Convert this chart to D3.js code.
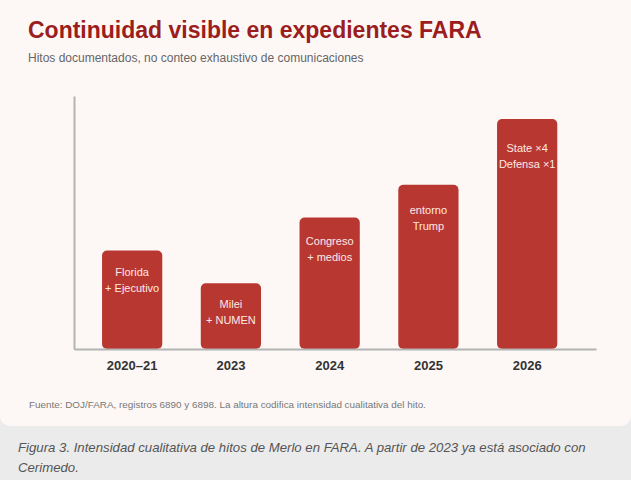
<!DOCTYPE html>
<html>
<head>
<meta charset="utf-8">
<script src="https://cdn.jsdelivr.net/npm/d3@7"></script>
<style>
  body { margin: 0; background: #ebebeb; font-family: "Liberation Sans", Arial, sans-serif; }
  #card { width: 631px; height: 426px; background: #fdf8f6; border-radius: 0 0 10px 10px; }
  #caption { padding: 12px 18px 0 18px; font-style: italic; font-size: 13.2px; line-height: 20px; color: #555; }
</style>
</head>
<body>
<div id="card"></div>
<div id="caption">Figura 3. Intensidad cualitativa de hitos de Merlo en FARA. A partir de 2023 ya está asociado con Cerimedo.</div>
<script>
// data (height = qualitative intensity)
var years = ["2020–21", "2023", "2024", "2025", "2026"];
var intensity = [3, 2, 4, 5, 7];
var labels = [
  ["Florida", "+ Ejecutivo"],
  ["Milei", "+ NUMEN"],
  ["Congreso", "+ medios"],
  ["entorno", "Trump"],
  ["State ×4", "Defensa ×1"]
];

var svgWidth = 631;
var svgHeight = 426;
var margin = { top: 96, right: 35, bottom: 77, left: 74 };
var width = svgWidth - margin.left - margin.right;
var height = svgHeight - margin.top - margin.bottom;

var svg = d3.select("#card")
  .append("svg")
  .attr("width", svgWidth)
  .attr("height", svgHeight);

svg.append("text")
  .attr("x", 28)
  .attr("y", 38)
  .attr("fill", "#9b1d1d")
  .attr("font-size", 23)
  .attr("font-weight", "bold")
  .text("Continuidad visible en expedientes FARA");

svg.append("text")
  .attr("x", 28)
  .attr("y", 62)
  .attr("fill", "#666")
  .attr("font-size", 12)
  .text("Hitos documentados, no conteo exhaustivo de comunicaciones");

var chartGroup = svg.append("g")
  .attr("transform", `translate(${margin.left}, ${margin.top})`);

var xScale = d3.scaleBand()
  .domain(years)
  .range([0, width])
  .paddingInner(0.39)
  .paddingOuter(0.338)
  .align(0.42);

var yScale = d3.scaleLinear()
  .domain([0, 7.7])
  .range([height, 0]);

var rows = years.map(function(y, i) {
  return { year: y, value: intensity[i], label: labels[i] };
});

chartGroup.selectAll("rect.bar")
  .data(rows)
  .enter()
  .append("rect")
  .attr("class", "bar")
  .attr("x", d => xScale(d.year))
  .attr("y", d => yScale(d.value))
  .attr("width", xScale.bandwidth())
  .attr("height", d => height - yScale(d.value))
  .attr("rx", 5)
  .attr("fill", "#b93731");

chartGroup.selectAll("text.bar_label")
  .data(rows)
  .enter()
  .append("text")
  .attr("class", "bar_label")
  .attr("text-anchor", "middle")
  .attr("fill", "#fde9e5")
  .attr("font-size", 11)
  .attr("transform", function(d) {
    var h = height - yScale(d.value);
    return `translate(${xScale(d.year) + xScale.bandwidth() / 2}, ${yScale(d.value) + 21 + h * 0.05})`;
  })
  .selectAll("tspan")
  .data(d => d.label)
  .enter()
  .append("tspan")
  .attr("x", 0)
  .attr("dy", (d, i) => i === 0 ? 0 : 16)
  .text(d => d);

var bottomAxis = d3.axisBottom(xScale).tickSize(0).tickPadding(12);
var leftAxis = d3.axisLeft(yScale).ticks(0).tickSize(0);

var xAxisG = chartGroup.append("g")
  .attr("transform", `translate(0, ${height})`)
  .call(bottomAxis)
  .attr("class", "xaxis");
xAxisG.select(".domain").attr("stroke", "#b3b3b3").attr("stroke-width", 2);
xAxisG.selectAll("text")
  .attr("font-family", "Liberation Sans, Arial, sans-serif")
  .attr("font-size", 13)
  .attr("font-weight", "bold")
  .attr("fill", "#333");

var yAxisG = chartGroup.append("g")
  .call(leftAxis)
  .attr("class", "yaxis");
yAxisG.select(".domain").attr("stroke", "#b3b3b3").attr("stroke-width", 2);

svg.append("text")
  .attr("x", 29)
  .attr("y", 408)
  .attr("fill", "#777")
  .attr("font-size", 9.9)
  .text("Fuente: DOJ/FARA, registros 6890 y 6898. La altura codifica intensidad cualitativa del hito.");
</script>
</body>
</html>
